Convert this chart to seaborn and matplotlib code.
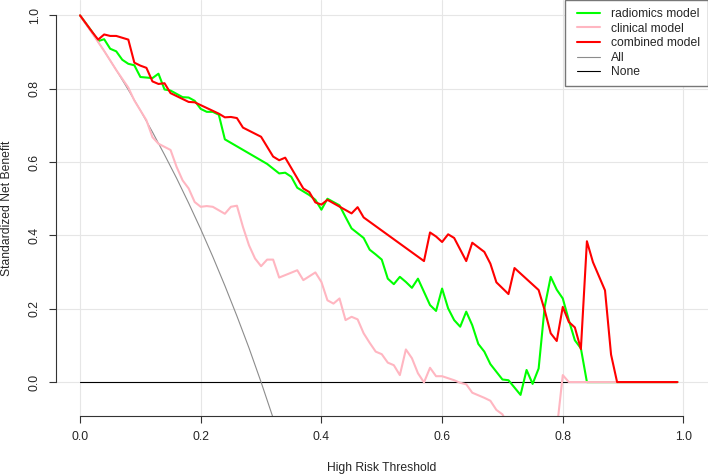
import numpy as np
import matplotlib
matplotlib.use("Agg")
import matplotlib.pyplot as plt
import seaborn as sns
from matplotlib.lines import Line2D
from matplotlib.legend_handler import HandlerLine2D

# ---------------- data ----------------
combined_x = [0.00, 0.02, 0.03, 0.04, 0.05, 0.06, 0.08, 0.09, 0.10, 0.11, 0.12, 0.13, 0.14,
              0.15, 0.18, 0.19, 0.23, 0.24, 0.25, 0.26, 0.27, 0.30, 0.32, 0.33, 0.34, 0.37,
              0.38, 0.39, 0.40, 0.41, 0.45, 0.46, 0.47, 0.57, 0.58, 0.59, 0.60, 0.61, 0.62,
              0.64, 0.65, 0.67, 0.68, 0.69, 0.71, 0.72, 0.76, 0.77, 0.78, 0.79, 0.80, 0.81,
              0.82, 0.83, 0.84, 0.85, 0.87, 0.88, 0.89, 0.99]
combined_y = [1.000, 0.955, 0.934, 0.948, 0.944, 0.944, 0.934, 0.871, 0.863, 0.857, 0.820, 0.813, 0.815,
              0.788, 0.764, 0.763, 0.732, 0.722, 0.723, 0.720, 0.694, 0.669, 0.615, 0.605, 0.612, 0.528,
              0.518, 0.490, 0.484, 0.497, 0.460, 0.477, 0.449, 0.330, 0.408, 0.397, 0.382, 0.403, 0.393,
              0.330, 0.380, 0.355, 0.323, 0.272, 0.240, 0.311, 0.251, 0.196, 0.133, 0.112, 0.205, 0.164,
              0.149, 0.090, 0.384, 0.327, 0.250, 0.075, 0.000, 0.000]

radiomics_x = [0.00, 0.02, 0.03, 0.04, 0.05, 0.06, 0.07, 0.08, 0.09, 0.10, 0.12, 0.13, 0.14,
               0.15, 0.17, 0.18, 0.19, 0.20, 0.21, 0.22, 0.23, 0.24, 0.31, 0.33, 0.34, 0.35,
               0.36, 0.38, 0.39, 0.40, 0.41, 0.42, 0.43, 0.44, 0.45, 0.46, 0.47, 0.48, 0.49,
               0.50, 0.51, 0.52, 0.53, 0.54, 0.55, 0.56, 0.57, 0.58, 0.59, 0.60, 0.61, 0.62,
               0.63, 0.64, 0.65, 0.66, 0.67, 0.68, 0.69, 0.70, 0.71, 0.72, 0.73, 0.74, 0.75,
               0.76, 0.77, 0.78, 0.79, 0.80, 0.81, 0.82, 0.83, 0.84, 0.99]
radiomics_y = [1.000, 0.955, 0.930, 0.935, 0.909, 0.902, 0.879, 0.868, 0.864, 0.832, 0.829, 0.841, 0.798,
               0.795, 0.777, 0.776, 0.767, 0.745, 0.737, 0.737, 0.729, 0.662, 0.595, 0.569, 0.571, 0.560,
               0.530, 0.510, 0.497, 0.470, 0.500, 0.491, 0.482, 0.450, 0.419, 0.406, 0.393, 0.361, 0.348,
               0.334, 0.282, 0.267, 0.287, 0.273, 0.257, 0.282, 0.246, 0.210, 0.194, 0.255, 0.201, 0.169,
               0.151, 0.192, 0.155, 0.104, 0.083, 0.049, 0.028, 0.007, 0.005, -0.015, -0.035, 0.033, -0.005,
               0.037, 0.205, 0.287, 0.252, 0.228, 0.169, 0.114, 0.092, 0.000, 0.000]

clinical_x = [0.00, 0.02, 0.04, 0.06, 0.08, 0.09, 0.11, 0.12, 0.13, 0.15, 0.16, 0.17, 0.18,
              0.19, 0.20, 0.21, 0.22, 0.24, 0.25, 0.26, 0.27, 0.28, 0.29, 0.30, 0.31, 0.32,
              0.33, 0.36, 0.37, 0.39, 0.40, 0.41, 0.42, 0.43, 0.44, 0.45, 0.46, 0.47, 0.48,
              0.49, 0.50, 0.51, 0.52, 0.53, 0.54, 0.55, 0.56, 0.57, 0.58, 0.59, 0.60, 0.62,
              0.63, 0.64, 0.65, 0.67, 0.68, 0.69, 0.70, 0.71, 0.72, 0.73, 0.74, 0.75, 0.76,
              0.77, 0.78, 0.79, 0.80, 0.81, 0.99]
clinical_y = [1.000, 0.952, 0.903, 0.851, 0.803, 0.768, 0.714, 0.668, 0.650, 0.633, 0.587, 0.550, 0.528,
              0.491, 0.478, 0.480, 0.478, 0.459, 0.478, 0.481, 0.423, 0.373, 0.337, 0.316, 0.334, 0.334,
              0.285, 0.305, 0.278, 0.299, 0.273, 0.223, 0.214, 0.228, 0.169, 0.178, 0.171, 0.133, 0.107,
              0.083, 0.076, 0.053, 0.046, 0.019, 0.089, 0.065, 0.024, -0.001, 0.039, 0.016, 0.016, 0.005,
              -0.002, -0.006, -0.029, -0.043, -0.051, -0.076, -0.088, -0.120, -0.140, -0.170, -0.190, -0.220, -0.250,
              -0.270, -0.300, -0.130, 0.019, 0.000, 0.000]

all_x = [0.00, 0.02, 0.04, 0.06, 0.08, 0.10, 0.12, 0.14, 0.16, 0.18, 0.20, 0.22, 0.24, 0.26,
         0.28, 0.30, 0.32]
all_y = [1.000, 0.952, 0.903, 0.851, 0.797, 0.741, 0.682, 0.620, 0.556, 0.488, 0.417, 0.342, 0.263, 0.180,
         0.093, 0.000, -0.098]

none_x = [0.00, 0.99]
none_y = [0.0, 0.0]

tick_vals = [0.0, 0.2, 0.4, 0.6, 0.8, 1.0]
tick_labels = ["0.0", "0.2", "0.4", "0.6", "0.8", "1.0"]

# ---------------- plot ----------------
sns.set_style("white")
plt.rcParams['font.family'] = ['Liberation Sans', 'DejaVu Sans']
fs = 8.7

fig = plt.figure(figsize=(7.08, 4.75), dpi=100)
ax = fig.add_axes([55.9 / 708, 59.2 / 475, 651.7 / 708, 1 - 59.2 / 475])

sns.lineplot(x=none_x, y=none_y, color='black', lw=0.8, ax=ax)
sns.lineplot(x=all_x, y=all_y, color='#8c8c8c', lw=0.8, ax=ax)
sns.lineplot(x=radiomics_x, y=radiomics_y, color='#00ff00', lw=1.5, ax=ax)
sns.lineplot(x=clinical_x, y=clinical_y, color='#ffb6c1', lw=1.5, ax=ax)
sns.lineplot(x=combined_x, y=combined_y, color='#ff0000', lw=1.5, ax=ax)

ax.set_xlim(-0.04, 1.04)
ax.set_ylim(-0.092, 1.042)
ax.set_xticks(tick_vals)
ax.set_xticklabels(tick_labels, fontsize=fs)
ax.set_yticks(tick_vals)
ax.set_yticklabels(tick_labels, fontsize=fs, rotation=90, va='center')
ax.grid(True, color='#e6e6e6', lw=0.8)
ax.set_axisbelow(True)

for s in ['top', 'right']:
    ax.spines[s].set_visible(False)
for s in ['left', 'bottom']:
    ax.spines[s].set_color('#333333')
    ax.spines[s].set_linewidth(0.8)
ax.spines['left'].set_bounds(0, 1)
ax.spines['bottom'].set_bounds(0, 1)
ax.tick_params(axis='both', direction='out', length=5, width=0.8, color='#333333',
               left=True, bottom=True)
ax.tick_params(axis='x', pad=6)
ax.tick_params(axis='y', pad=6)

ax.set_xlabel('High Risk Threshold', fontsize=fs, va='center')
ax.xaxis.set_label_coords(0.5, (7 - 59.2) / (475 - 59.2))
ax.set_ylabel('Standardized Net Benefit', fontsize=fs, va='center')
ax.yaxis.set_label_coords((7 - 55.9) / 651.7, 0.5)

handles = [Line2D([], [], color='#00ff00', lw=1.5),
           Line2D([], [], color='#ffb6c1', lw=1.5),
           Line2D([], [], color='#ff0000', lw=1.5),
           Line2D([], [], color='#8c8c8c', lw=0.8),
           Line2D([], [], color='black', lw=0.8)]
names = ['radiomics model', 'clinical model', 'combined model', 'All', 'None']
leg = ax.legend(handles, names, loc='upper right', fontsize=fs, borderaxespad=0,
                fancybox=False, framealpha=1, edgecolor='#777777', borderpad=0.65,
                handlelength=2.2, handletextpad=0.92, labelspacing=0.22,
                handler_map={Line2D: HandlerLine2D(xpad=0.3)})
leg.get_frame().set_linewidth(1.0)

fig.savefig('out.png', dpi=100)
